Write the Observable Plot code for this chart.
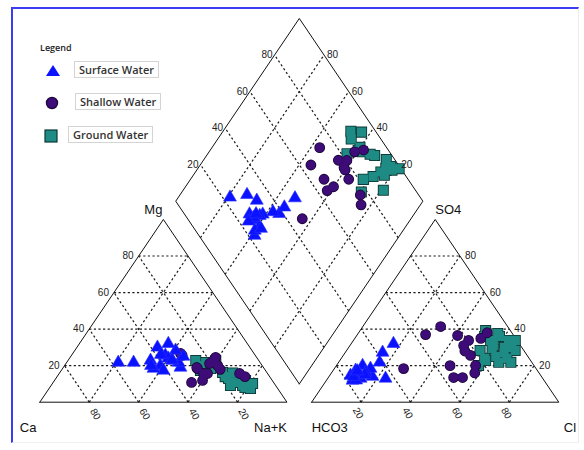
<!DOCTYPE html>
<html><head><meta charset="utf-8">
<script src="https://cdn.jsdelivr.net/npm/d3@7"></script>
<script src="https://cdn.jsdelivr.net/npm/@observablehq/plot@0.6"></script>
<style>
body{margin:0;background:#fff;}
#wrap{position:relative;width:584px;height:450px;overflow:hidden;font-family:"Liberation Sans",Arial,sans-serif;background:#fff;}
#frame{position:absolute;left:11px;top:7px;width:568px;height:436px;border-left:2px solid #3c3cf0;border-top:2px solid #3c3cf0;border-right:1px solid #ececec;border-bottom:1px solid #f0f0f0;box-sizing:border-box;}
#chart{position:absolute;left:0;top:0;}
#legend{position:absolute;left:0;top:0;font-family:"Open Sans",sans-serif;}
#legend .title{position:absolute;left:40px;top:41px;font-size:9px;color:#222;font-weight:600;}
#legend .box{position:absolute;border:1px solid #d4d4d4;font-size:11px;font-weight:600;color:#333;padding:0 4px;line-height:15px;white-space:nowrap;background:#fff;}
#legend svg{position:absolute;}
</style></head>
<body><div id="wrap"><div id="frame"></div><div id="chart"></div><div id="legend"></div></div>
<script>
// ---- data (% meq) ----
const gridValues = [20, 40, 60, 80];
const groupNames = ["Surface Water", "Shallow Water", "Ground Water"];

const surfaceMg  = [21.7, 21.7, 19.0, 21.7, 25.0, 22.8, 20.0, 17.4, 22.8, 30.0, 25.6, 18.4, 28.3, 32.0, 20.0, 24.0, 26.0, 23.0];
const surfaceNaK = [20.9, 27.1, 47.4, 45.3, 45.6, 42.3, 38.8, 41.3, 33.4, 32.6, 38.0, 36.8, 40.8, 36.0, 35.0, 40.0, 36.0, 42.0];
const surfaceSO4 = [14.6, 20.0, 32.0, 21.8, 27.2, 13.0, 14.0, 11.9, 13.0, 18.4, 16.3, 17.4, 15.0, 16.0, 12.0, 14.0, 15.0, 17.0];
const surfaceCl  = [8.4, 10.6, 17.1, 16.6, 15.1, 23.4, 17.6, 10.6, 13.3, 14.6, 13.7, 9.1, 12.0, 11.0, 12.0, 10.0, 14.0, 10.0];

const shallowMg  = [10.8, 26.7, 25.6, 22.8, 24.5, 21.2, 18.4, 15.7, 15.7, 11.9, 15.7, 14.0, 20.0, 18.0, 19.0];
const shallowNaK = [56.0, 43.6, 44.8, 58.9, 58.9, 58.1, 54.6, 58.4, 60.0, 59.9, 73.0, 76.0, 62.0, 64.0, 54.0];
const shallowSO4 = [18.4, 41.4, 37.0, 36.5, 34.9, 33.8, 31.0, 13.5, 25.6, 13.5, 20.1, 16.0, 38.0, 28.0, 20.0];
const shallowCl  = [28.0, 31.5, 27.6, 40.8, 51.0, 46.6, 46.0, 50.7, 51.5, 54.3, 56.3, 58.0, 52.0, 48.0, 46.0];

const groundMg  = [22.8, 21.7, 22.8, 17.4, 18.4, 16.3, 13.0, 10.8, 9.1, 7.5, 14.6, 11.9, 9.1, 10.2, 20.0, 19.0, 14.0, 12.0, 8.0, 16.0, 11.0];
const groundNaK = [51.7, 56.3, 59.8, 56.3, 59.9, 65.8, 69.9, 73.8, 77.5, 81.5, 73.1, 77.3, 72.6, 81.0, 54.0, 62.0, 68.0, 75.0, 79.0, 70.0, 76.0];
const groundSO4 = [39.2, 37.6, 33.8, 28.3, 29.4, 27.2, 22.8, 33.8, 28.3, 33.8, 21.8, 21.8, 20.1, 25.0, 36.0, 31.0, 30.0, 24.0, 30.0, 24.0, 36.0];
const groundCl  = [50.8, 56.5, 55.5, 54.0, 58.3, 64.3, 59.0, 62.8, 68.2, 65.5, 64.8, 69.7, 57.5, 62.0, 52.0, 58.0, 63.0, 67.0, 66.0, 58.0, 58.0];

// ---- Piper geometry ----
const H = Math.sqrt(3) / 2, G = 0.1;
const cat = (mg, na) => [na / 100 + mg / 200, H * mg / 100];
const an = (so4, cl) => [1 + G + cl / 100 + so4 / 200, H * so4 / 100];
const dia = (na, a) => [0.5 + G / 2 + (a + na) / 200, H * (1 + G + (a - na) / 100)];
const lerp = (p, q, f) => [p[0] + (q[0] - p[0]) * f, p[1] + (q[1] - p[1]) * f];

const rows = [];
function addGroup(name, mg, nak, so4, cl) {
  mg.forEach((m, i) => rows.push({group: name, mg: m, nak: nak[i], so4: so4[i], cl: cl[i]}));
}
addGroup(groupNames[0], surfaceMg, surfaceNaK, surfaceSO4, surfaceCl);
addGroup(groupNames[1], shallowMg, shallowNaK, shallowSO4, shallowCl);
addGroup(groupNames[2], groundMg, groundNaK, groundSO4, groundCl);

const pts = rows.flatMap(r => [cat(r.mg, r.nak), an(r.so4, r.cl), dia(r.nak, r.so4 + r.cl)]
  .map(([x, y]) => ({group: r.group, x, y})));
const ptsOf = g => pts.filter(p => p.group === g);

// triangles vertices: [left, right, top]
const leftTri = [cat(0, 0), cat(0, 100), cat(100, 0)];
const rightTri = [an(0, 0), an(0, 100), an(100, 0)];
const dL = dia(0, 0), dB = dia(100, 0), dT = dia(0, 100), dR = dia(100, 100);

const gridLines = [];
function triGrid([A, B, C]) {
  for (const v of gridValues) {
    const f = v / 100;
    gridLines.push([lerp(A, C, f), lerp(B, C, f)]);
    gridLines.push([lerp(A, B, f), lerp(C, B, f)]);
    gridLines.push([lerp(B, A, f), lerp(C, A, f)]);
  }
}
triGrid(leftTri); triGrid(rightTri);
for (const v of gridValues) {
  const f = v / 100;
  gridLines.push([lerp(dB, dL, f), lerp(dR, dT, f)]);
  gridLines.push([lerp(dB, dR, f), lerp(dL, dT, f)]);
}
const outlines = [
  ...[...leftTri, leftTri[0]].map(p => ({id: "L", x: p[0], y: p[1]})),
  ...[...rightTri, rightTri[0]].map(p => ({id: "R", x: p[0], y: p[1]})),
  ...[dB, dR, dT, dL, dB].map(p => ({id: "D", x: p[0], y: p[1]}))
];

// tick labels
const mgLabels = gridValues.map(v => ({t: v, p: cat(v, 0)}));
const caLabels = gridValues.map(v => ({t: v, p: cat(0, 100 - v)}));
const so4Labels = gridValues.map(v => ({t: v, p: an(v, 100 - v)}));
const clLabels = gridValues.map(v => ({t: v, p: an(0, v)}));
const dLeftLabels = gridValues.map(v => ({t: v, p: lerp(dL, dT, v / 100)}));
const dRightLabels = gridValues.map(v => ({t: v, p: lerp(dR, dT, v / 100)}));

const tickStyle = {x: d => d.p[0], y: d => d.p[1], text: d => String(d.t), fontSize: 10, fill: "#222", fontFamily: "Liberation Sans, Arial, sans-serif"};
const titleStyle = {fontSize: 13, fill: "#111", fontFamily: "Liberation Sans, Arial, sans-serif"};
const T = (p, text) => [{x: p[0], y: p[1], text}];

const colors = {surface: "#0b12ff", shallow: "#3e0c78", shallowEdge: "#1a0535", ground: "#1f8b85", groundEdge: "#0c3836"};

const chart = Plot.plot({
  width: 584, height: 450,
  x: {domain: [0, 2.1], range: [39.3, 558.3], axis: null},
  y: {domain: [0, 1.9], range: [401.7, 401.7 - 211 * 1.9], axis: null},
  marks: [
    Plot.link(gridLines, {x1: d => d[0][0], y1: d => d[0][1], x2: d => d[1][0], y2: d => d[1][1],
      stroke: "#1a1a1a", strokeWidth: 1.2, strokeDasharray: "2.2,2.4"}),
    Plot.line(outlines, {x: "x", y: "y", z: "id", stroke: "#111", strokeWidth: 1}),
    // ground water
    Plot.dot(ptsOf(groupNames[2]), {x: "x", y: "y", symbol: "square", r: 5.2, fill: colors.groundEdge, stroke: colors.groundEdge, strokeWidth: 1.8}),
    Plot.dot(ptsOf(groupNames[2]), {x: "x", y: "y", symbol: "square", r: 5.2, fill: colors.ground}),
    // shallow water
    Plot.dot(ptsOf(groupNames[1]), {x: "x", y: "y", symbol: "circle", r: 4.6, fill: colors.shallowEdge, stroke: colors.shallowEdge, strokeWidth: 1.6}),
    Plot.dot(ptsOf(groupNames[1]), {x: "x", y: "y", symbol: "circle", r: 4.6, fill: colors.shallow}),
    // surface water
    Plot.dot(ptsOf(groupNames[0]), {x: "x", y: "y", symbol: "triangle", r: 4.8, fill: colors.surface, stroke: "#2a30ff", strokeWidth: 0.6}),
    // tick labels
    Plot.text(mgLabels, {...tickStyle, textAnchor: "end", dx: -5}),
    Plot.text(caLabels, {...tickStyle, rotate: 60, dx: 6, dy: 12}),
    Plot.text(so4Labels, {...tickStyle, textAnchor: "start", dx: 5}),
    Plot.text(clLabels, {...tickStyle, rotate: 60, dx: -3, dy: 11}),
    Plot.text(dLeftLabels, {...tickStyle, textAnchor: "end", dx: -2}),
    Plot.text(dRightLabels, {...tickStyle, textAnchor: "start", dx: 3}),
    // axis titles
    Plot.text(T(leftTri[2], "Mg"), {x: "x", y: "y", text: "text", ...titleStyle, dx: -10, dy: -10}),
    Plot.text(T(rightTri[2], "SO4"), {x: "x", y: "y", text: "text", ...titleStyle, textAnchor: "start", dy: -10}),
    Plot.text(T(leftTri[0], "Ca"), {x: "x", y: "y", text: "text", ...titleStyle, textAnchor: "start", dx: -20, dy: 26}),
    Plot.text(T(leftTri[1], "Na+K"), {x: "x", y: "y", text: "text", ...titleStyle, textAnchor: "end", dy: 26}),
    Plot.text(T(rightTri[0], "HCO3"), {x: "x", y: "y", text: "text", ...titleStyle, textAnchor: "start", dy: 26}),
    Plot.text(T(rightTri[1], "Cl"), {x: "x", y: "y", text: "text", ...titleStyle, textAnchor: "start", dx: 5, dy: 26})
  ]
});
chart.style.background = "transparent";
document.getElementById("chart").appendChild(chart);

// legend (HTML)
const lg = document.getElementById("legend");
lg.innerHTML = `<div class="title">Legend</div>
<svg style="left:45px;top:64px" width="16" height="13"><polygon points="8,1 15,12 1,12" fill="${colors.surface}"/></svg>
<div class="box" style="left:74px;top:61px">${groupNames[0]}</div>
<svg style="left:45px;top:96px" width="14" height="14"><circle cx="7" cy="7" r="5.6" fill="${colors.shallow}" stroke="${colors.shallowEdge}" stroke-width="1.2"/></svg>
<div class="box" style="left:75px;top:93px">${groupNames[1]}</div>
<svg style="left:44px;top:129px" width="14" height="14"><rect x="1" y="1" width="12" height="12" fill="${colors.ground}" stroke="${colors.groundEdge}" stroke-width="1.2"/></svg>
<div class="box" style="left:68px;top:126px">${groupNames[2]}</div>`;
</script></body></html>
